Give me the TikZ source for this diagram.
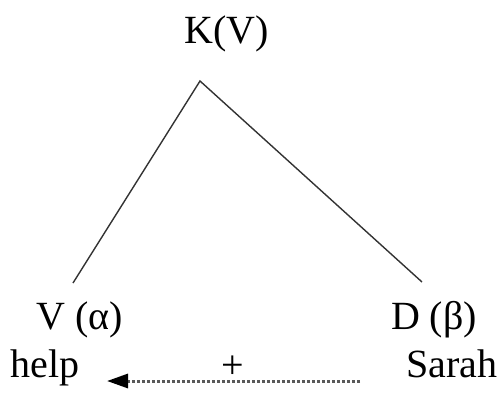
\documentclass[tikz,border=0pt]{standalone}
\usepackage{fontspec}
\setmainfont{Liberation Serif}
\usetikzlibrary{arrows.meta}
\begin{document}
\begin{tikzpicture}[x=1pt,y=-1pt,
  lbl/.style={font=\fontsize{40}{42}\selectfont, inner sep=0pt, anchor=base},
  tree/.style={line width=1.4pt, black!80},
  dotarrow/.style={line width=3pt, black!65, dash pattern=on 2.6pt off 2.4pt, -{Triangle[length=21pt,width=14pt,color=black]}}]
\useasboundingbox (0,0) rectangle (500,392);
\node[lbl] (k) at (227,43) {K(V)};
\node[lbl] (v) at (80,329) {V (α)};
\node[lbl] (d) at (434,329) {D (β)};
\node[lbl] (help) at (45,377) {help};
\node[lbl] (sarah) at (452,377) {Sarah};
\node[lbl] (plus) at (233,378) {+};
\coordinate (apex) at (200,81);
\coordinate (lend) at (73,283);
\coordinate (rend) at (422,282);
\coordinate (astart) at (360,381);
\coordinate (aend) at (107,381);
\draw[tree] (lend) -- (apex) -- (rend);
\draw[dotarrow] (astart) -- (aend);
\end{tikzpicture}
\end{document}
